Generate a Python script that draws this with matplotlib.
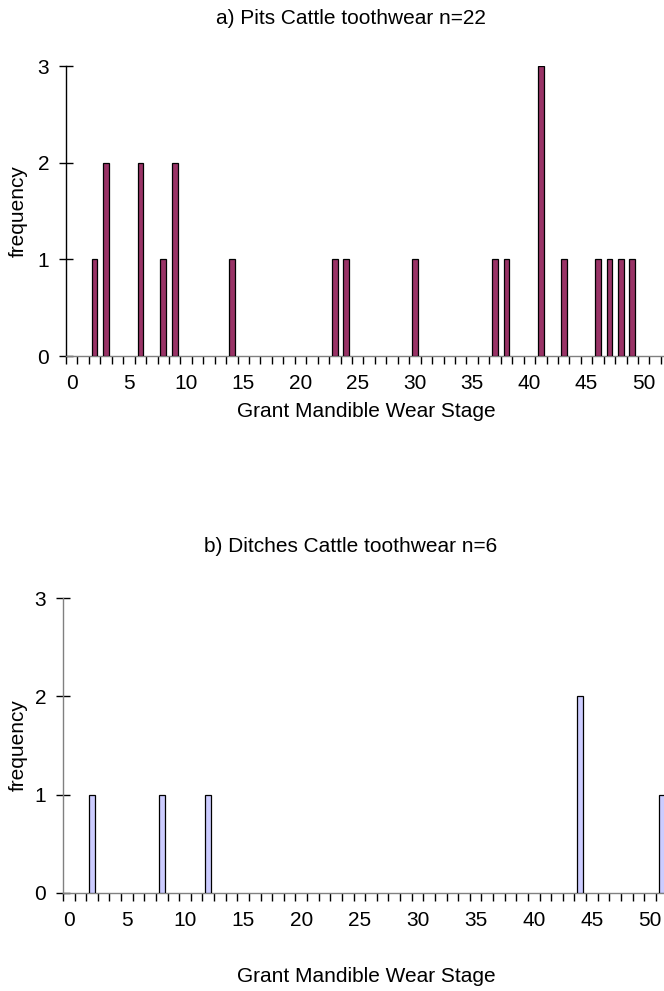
import matplotlib
matplotlib.use("Agg")
import matplotlib.pyplot as plt
from matplotlib.ticker import MultipleLocator, FixedLocator

plt.rcParams["font.family"] = ["Liberation Sans", "DejaVu Sans"]

# Grant Mandible Wear Stage -> frequency
pits_stage = [2, 3, 6, 8, 9, 14, 23, 24, 30, 37, 38, 41, 43, 46, 47, 48, 49]
pits_freq = [1, 2, 2, 1, 2, 1, 1, 1, 1, 1, 1, 3, 1, 1, 1, 1, 1]

ditch_stage = [2, 8, 12, 44, 51]
ditch_freq = [1, 1, 1, 2, 1]

W, H = 664, 991
fig = plt.figure(figsize=(W / 100, H / 100), dpi=100)


def draw(ax, stages, freqs, color, xmax, yaxis_color):
    ax.bar(stages, freqs, width=0.5, color=color, edgecolor="black",
           linewidth=0.9, zorder=3)
    ax.set_xlim(-0.5, xmax)
    ax.set_ylim(0, 3)
    for s in ("top", "right"):
        ax.spines[s].set_visible(False)
    ax.spines["left"].set_color(yaxis_color)
    ax.spines["bottom"].set_color("#808080")
    ax.spines["left"].set_linewidth(1.0)
    ax.spines["bottom"].set_linewidth(1.0)

    ax.yaxis.set_major_locator(MultipleLocator(1))
    ax.tick_params(axis="y", direction="inout", length=10, width=1.0,
                   color="black", labelsize=15, pad=7)
    # labels at category centres, tick marks between categories
    ax.xaxis.set_major_locator(MultipleLocator(5))
    ax.xaxis.set_minor_locator(FixedLocator([k - 0.5 for k in range(0, 60)]))
    ax.tick_params(axis="x", which="major", length=0, labelsize=15, pad=13)
    ax.tick_params(axis="x", which="minor", direction="out", length=6,
                   width=1.0, color="black")


ax1 = fig.add_axes([66 / W, 1 - 356 / H, 1 - 66 / W, 290 / H])
draw(ax1, pits_stage, pits_freq, "#993366", 51.77, "black")

ax2 = fig.add_axes([63 / W, 1 - 893 / H, 1 - 63 / W, 295 / H])
draw(ax2, ditch_stage, ditch_freq, "#CCCCFF", 51.2, "#808080")

fig.text(351 / W, 1 - 19 / H, "a) Pits Cattle toothwear n=22",
         ha="center", va="center", fontsize=15)
fig.text(366 / W, 1 - 412 / H, "Grant Mandible Wear Stage",
         ha="center", va="center", fontsize=15)
fig.text(18 / W, 1 - 211 / H, "frequency", rotation=90,
         ha="center", va="center", fontsize=15)

fig.text(351 / W, 1 - 546 / H, "b) Ditches Cattle toothwear n=6",
         ha="center", va="center", fontsize=15)
fig.text(366 / W, 1 - 977 / H, "Grant Mandible Wear Stage",
         ha="center", va="center", fontsize=15)
fig.text(18 / W, 1 - 745 / H, "frequency", rotation=90,
         ha="center", va="center", fontsize=15)

fig.savefig("out.png", dpi=100)
